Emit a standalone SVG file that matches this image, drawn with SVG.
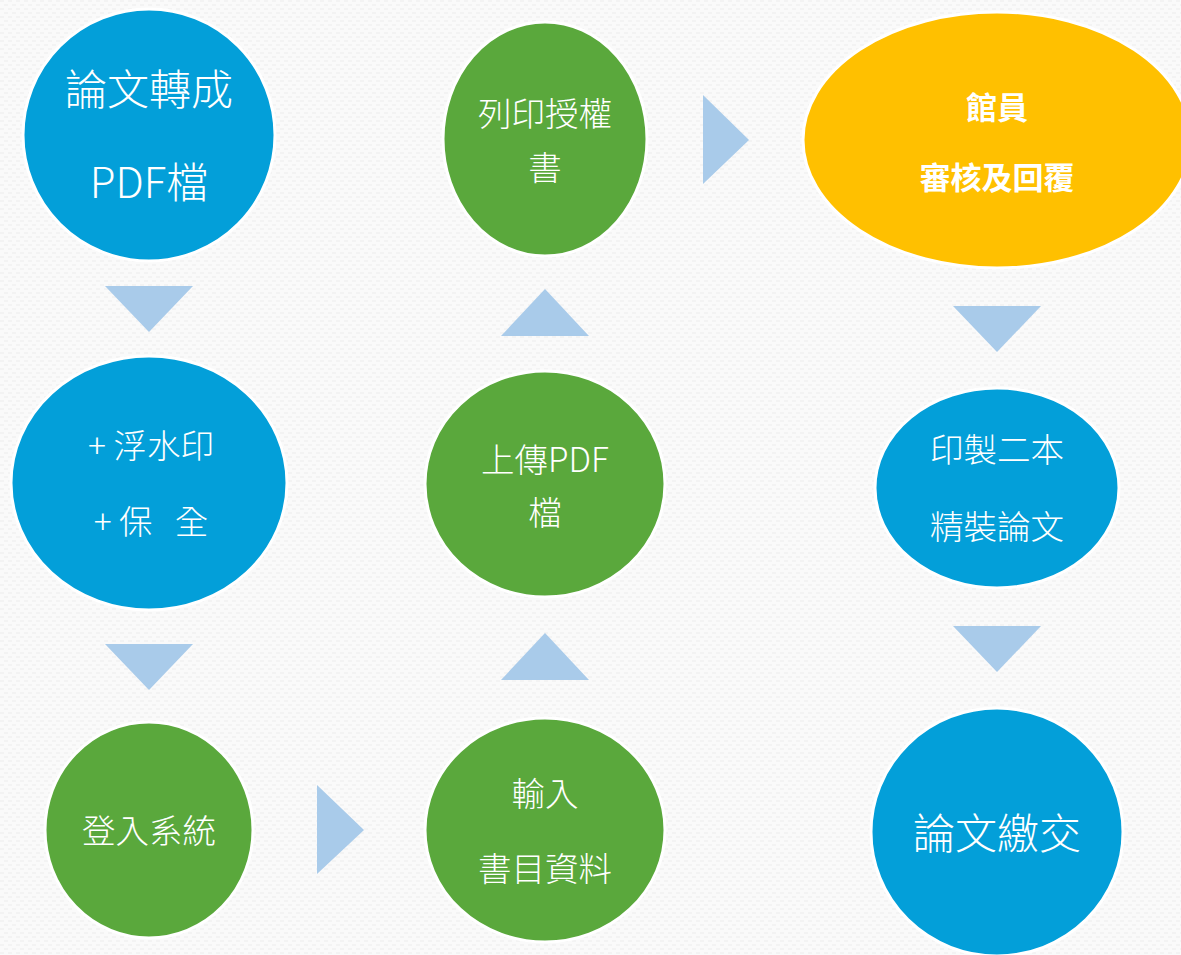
<svg xmlns="http://www.w3.org/2000/svg" width="1181" height="955" viewBox="0 0 1181 955">
<defs>
<pattern id="bg" width="8" height="8" patternUnits="userSpaceOnUse">
<rect width="8" height="8" fill="#fafafa"/>
<rect x="0" y="0" width="4" height="2" fill="#f3f3f3"/>
<rect x="4" y="4" width="4" height="2" fill="#f3f3f3"/>
</pattern>
</defs>
<style>
.blue{fill:#039fd9;stroke:#ffffff;stroke-width:3}
.green{fill:#5aa83c;stroke:#ffffff;stroke-width:3}
.yellow{fill:#ffc000;stroke:#ffffff;stroke-width:3}
.arr{fill:#a9cbea}
text{font-family:"Noto Sans CJK TC","Noto Sans CJK SC",sans-serif;fill:#ffffff;text-anchor:middle;font-weight:300}
.big{font-size:42px}
.mid{font-size:33.5px}
.b{font-weight:700;font-size:31px}
</style>
<rect width="1181" height="955" fill="url(#bg)"/>
<g id="connectors">
<polygon class="arr" points="105,286 193,286 149,332"/>
<polygon class="arr" points="105,644 193,644 149,690"/>
<polygon class="arr" points="317,785 317,874 364,830"/>
<polygon class="arr" points="501,680 589,680 545,633"/>
<polygon class="arr" points="501,336 589,336 545,289"/>
<polygon class="arr" points="703,95 703,184 749,140"/>
<polygon class="arr" points="953,306 1041,306 997,352"/>
<polygon class="arr" points="953,626 1041,626 997,672"/>
</g>
<g id="n1">
<ellipse class="blue" cx="149" cy="135" rx="126" ry="126"/>
<text class="big" x="149" y="105">論文轉成</text>
<text class="big" x="149" y="198">PDF檔</text>
</g>
<g id="n2">
<ellipse class="blue" cx="149" cy="483" rx="138" ry="127"/>
<text class="mid" x="151" y="458">+ 浮水印</text>
<text class="mid" x="151" y="534" xml:space="preserve">+ 保   全</text>
</g>
<g id="n3">
<ellipse class="green" cx="149" cy="830" rx="104" ry="108"/>
<text class="mid" x="149" y="843">登入系統</text>
</g>
<g id="n4">
<ellipse class="green" cx="545" cy="830" rx="120" ry="112"/>
<text class="mid" x="545" y="806">輸入</text>
<text class="mid" x="545" y="881">書目資料</text>
</g>
<g id="n5">
<ellipse class="green" cx="545" cy="484" rx="120" ry="113"/>
<text class="mid" x="545" y="472">上傳PDF</text>
<text class="mid" x="545" y="525">檔</text>
</g>
<g id="n6">
<ellipse class="green" cx="545" cy="139" rx="102" ry="117"/>
<text class="mid" x="545" y="126">列印授權</text>
<text class="mid" x="545" y="180">書</text>
</g>
<g id="n7">
<ellipse class="yellow" cx="997" cy="140" rx="194" ry="128"/>
<text class="b" x="997" y="119">館員</text>
<text class="b" x="997" y="189">審核及回覆</text>
</g>
<g id="n8">
<ellipse class="blue" cx="997" cy="488" rx="122" ry="100"/>
<text class="mid" x="997" y="462">印製二本</text>
<text class="mid" x="997" y="539">精裝論文</text>
</g>
<g id="n9">
<ellipse class="blue" cx="997" cy="832" rx="126" ry="124"/>
<text class="big" x="997" y="849">論文繳交</text>
</g>
</svg>
